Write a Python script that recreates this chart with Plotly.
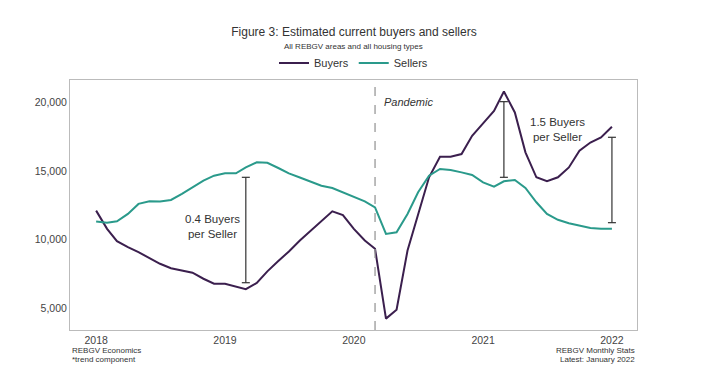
import pandas as pd
import plotly.graph_objects as go

# ---- data (monthly, Jan 2018 - Jan 2022) ----
months = pd.date_range("2018-01-01", periods=49, freq="MS")
buyers = [12130, 10800, 9900, 9460, 9100, 8690, 8250, 7930, 7770, 7600, 7160, 6800,
          6800, 6600, 6400, 6850, 7700, 8450, 9150, 9950, 10650, 11350, 12080, 11800,
          10800, 9950, 9350, 4250, 4900, 9220, 11890, 14560, 16060, 16060, 16260, 17590,
          18490, 19410, 20820, 19290, 16380, 14560, 14270, 14560, 15280, 16500, 17100, 17470,
          18250]
sellers = [11330, 11240, 11350, 11890, 12620, 12810, 12790, 12910, 13350, 13830, 14320, 14680,
           14850, 14850, 15280, 15650, 15620, 15240, 14850, 14550, 14230, 13950, 13780, 13470,
           13100, 12810, 12370, 10430, 10550, 11890, 13470, 14680, 15170, 15090, 14920, 14730,
           14190, 13880, 14270, 14370, 13780, 12740, 11890, 11460, 11210, 11040, 10870, 10800,
           10800]
y_ticks = [5000, 10000, 15000, 20000]
x_ticks = ["2018-01-01", "2019-01-01", "2020-01-01", "2021-01-01", "2022-01-01"]
x_tick_labels = ["2018", "2019", "2020", "2021", "2022"]

# ratio range bars (annotation)
bar_dates = ["2019-03-01", "2021-03-01", "2022-01-01"]
bar_low = [6870, 14560, 11250]
bar_high = [14560, 20080, 17480]
pandemic_date = "2020-03-01"

BUY_C = "#3b1f4e"
SELL_C = "#2a9a8b"
TXT = "#333333"
FONT = "Liberation Sans, Arial, sans-serif"

# page body has an 8px margin: figure is sized to fill the rest of the window
W, H = 701, 365
PLOT_TOP, PLOT_H = 72, 250

def py(pix):
    """paper y for a window pixel row"""
    return (PLOT_TOP + PLOT_H - (pix - 8)) / PLOT_H

fig = go.Figure()
fig.add_trace(go.Scatter(x=months, y=buyers, mode="lines", name="Buyers",
                         line=dict(color=BUY_C, width=2)))
fig.add_trace(go.Scatter(x=months, y=sellers, mode="lines", name="Sellers",
                         line=dict(color=SELL_C, width=2)))

shapes = []
shapes.append(dict(type="line", xref="x", yref="paper", x0=pandemic_date, x1=pandemic_date,
                   y0=0, y1=1, line=dict(color="#999999", width=1.3, dash="dash")))
for d, lo, hi in zip(bar_dates, bar_low, bar_high):
    shapes.append(dict(type="line", xref="x", yref="y", x0=d, x1=d, y0=lo, y1=hi,
                       line=dict(color=TXT, width=1.2)))
    for yy in (lo, hi):
        shapes.append(dict(type="line", xref="x", yref="y", xsizemode="pixel", xanchor=d,
                           x0=-4, x1=4, y0=yy, y1=yy, line=dict(color=TXT, width=1.2)))

def note(text, x, y, xa, size=8, xref="paper", yref="paper"):
    return dict(text=text, xref=xref, yref=yref, x=x, y=y, xanchor=xa, yanchor="middle",
                showarrow=False, font=dict(size=size, color=TXT, family=FONT))

annotations = [
    note("All REBGV areas and all housing types", 0.5, py(46), "center"),
    note("<i>Pandemic</i>", "2020-03-22", 20040, "left", 11, "x", "y"),
    note("0.4 Buyers<br>per Seller", "2018-11-28", 11000, "center", 11.5, "x", "y"),
    note("1.5 Buyers<br>per Seller", "2021-07-30", 18040, "center", 11.5, "x", "y"),
    note("REBGV Economics", 0, py(350), "left"),
    note("*trend component", 0, py(359), "left"),
    note("REBGV Monthly Stats", 1, py(350), "right"),
    note("Latest: January 2022", 1, py(359), "right"),
]

fig.update_layout(
    width=W, height=H,
    margin=dict(l=62, r=72, t=PLOT_TOP, b=H - PLOT_TOP - PLOT_H),
    paper_bgcolor="white", plot_bgcolor="white",
    font=dict(family=FONT, color=TXT),
    title=dict(text="Figure 3: Estimated current buyers and sellers", x=(354 - 8) / W,
               xanchor="center", y=1 - (32 - 8) / H, yanchor="middle",
               font=dict(size=12, color=TXT, family=FONT)),
    legend=dict(orientation="h", x=0.5, xanchor="center", y=py(63), yanchor="middle",
                font=dict(size=11, color=TXT, family=FONT), itemwidth=30,
                bgcolor="rgba(0,0,0,0)"),
    shapes=shapes,
    annotations=annotations,
    showlegend=True,
)
fig.update_xaxes(type="date", range=["2017-10-19", "2022-03-13"], tickvals=x_ticks,
                 ticktext=x_tick_labels, showgrid=False, zeroline=False,
                 showline=True, linecolor="#bbbbbb", linewidth=1, mirror=True,
                 ticks="", tickfont=dict(size=10.5, color="#444444", family=FONT))
fig.update_yaxes(range=[3420, 21660], tickvals=y_ticks, tickformat=",", showgrid=False,
                 zeroline=False, showline=True, linecolor="#bbbbbb", linewidth=1, mirror=True,
                 ticks="", tickfont=dict(size=10.5, color="#444444", family=FONT))

fig.write_html("out.html")
